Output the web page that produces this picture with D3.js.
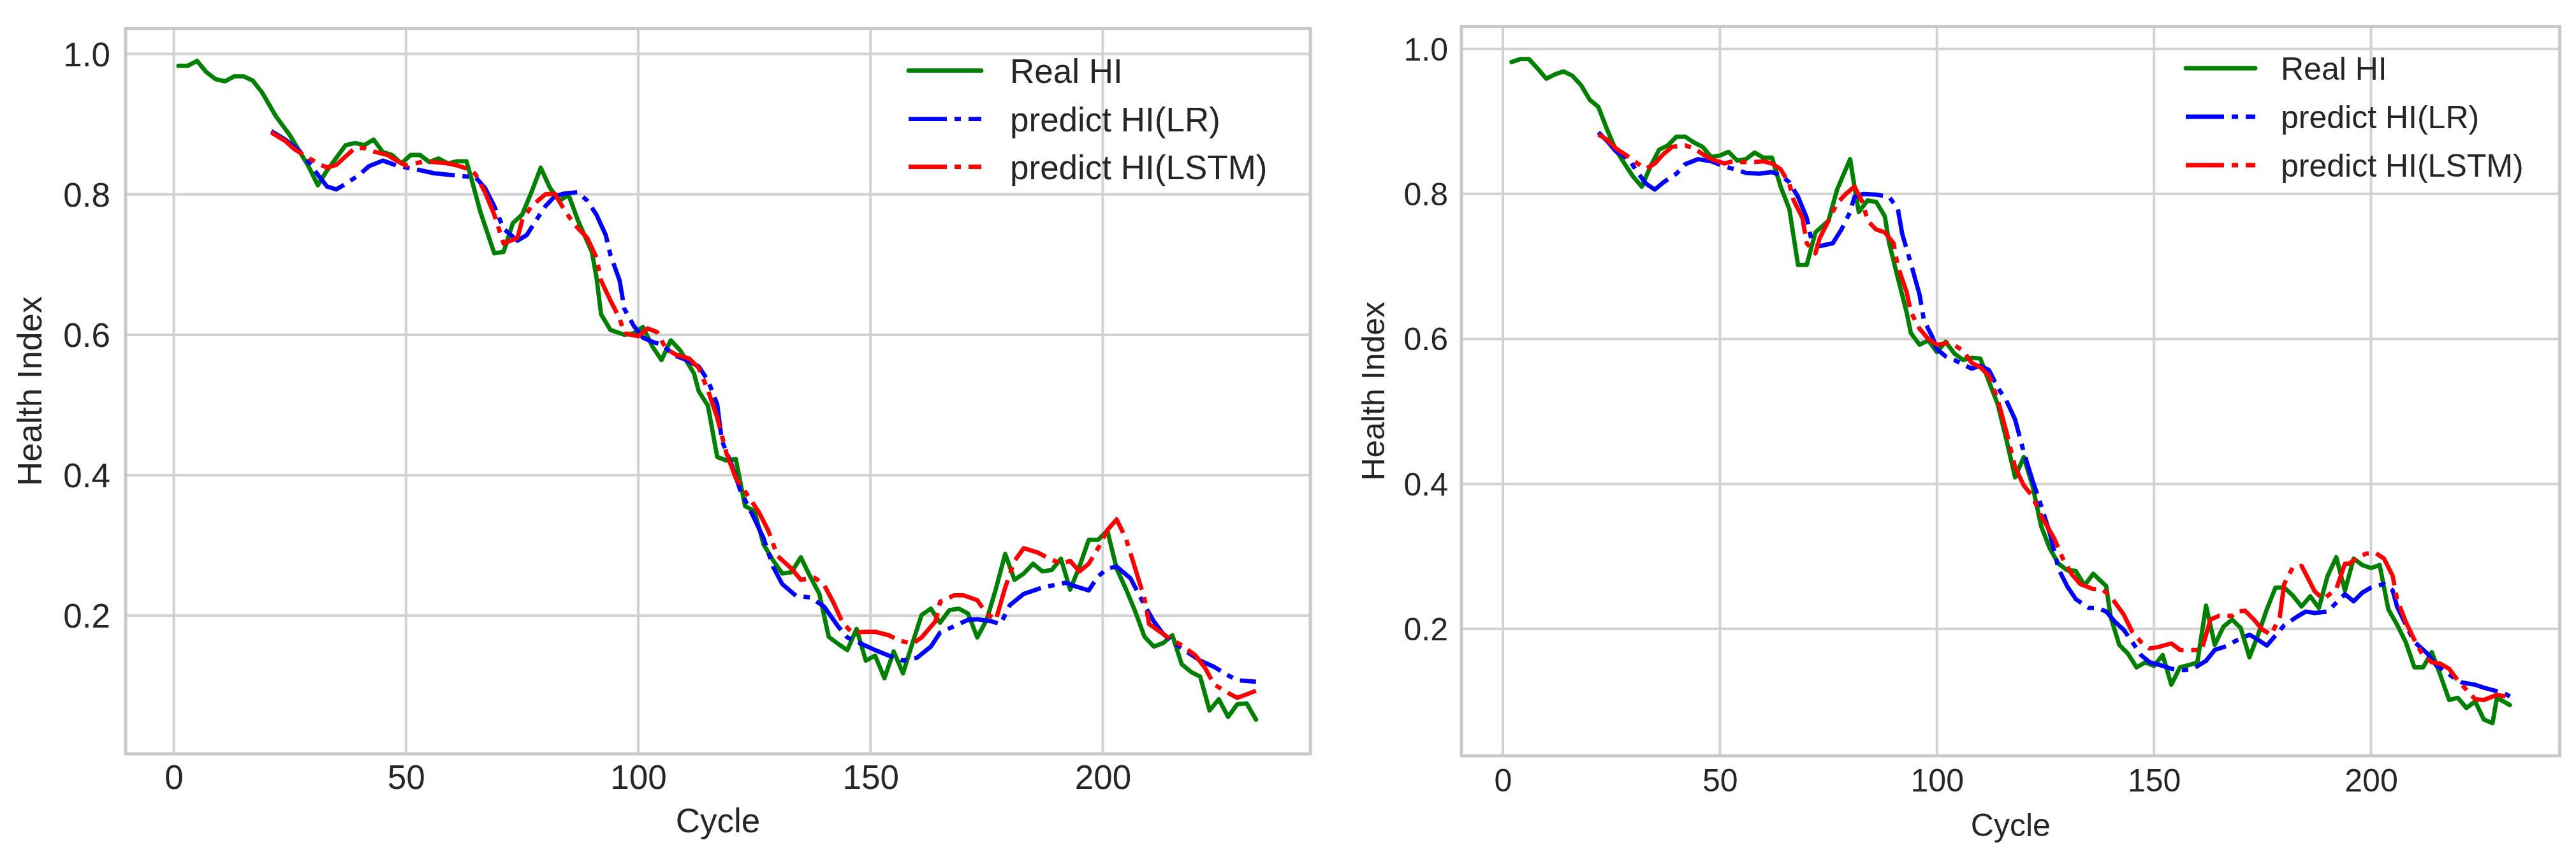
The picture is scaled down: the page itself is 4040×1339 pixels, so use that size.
<!DOCTYPE html>
<html>
<head>
<meta charset="utf-8">
<script src="https://cdn.jsdelivr.net/npm/d3@7"></script>
<style>
  html, body { margin: 0; padding: 0; background: #ffffff; }
  svg { display: block; }
  text { font-family: "Liberation Sans", Arial, sans-serif; fill: #262626; }
</style>
</head>
<body>
<svg id="chart" width="4040" height="1339"></svg>
<script>
// ---------------- DATA ----------------
const xTicks = [0, 50, 100, 150, 200];
const yTicks = [0.2, 0.4, 0.6, 0.8, 1.0];
const seriesNames = ["Real HI", "predict HI(LR)", "predict HI(LSTM)"];

// Left panel
const leftRealCycle = [1,3,5,7,9,11,13,15,17,19,22,25,27,29,31,33,37,39,41,43,45,47,49,51,53,55,57,59,61,63,64,66,69,71,73,75,77,79,81,83,85,87,90,91,92,94,97,99,101,103,105,107,109,110,112,113,115,117,119,121,123,125,127,129,131,133,135,137,139,141,143,145,147,149,151,153,155,157,159,161,163,165,167,169,171,173,175,177,179,181,183,185,187,189,191,193,195,197,199,201,203,205,207,209,211,213,215,217,219,221,223,225,227,229,231,233];
const leftRealHI = [0.983,0.983,0.990,0.974,0.964,0.961,0.968,0.968,0.962,0.945,0.911,0.884,0.862,0.840,0.813,0.834,0.870,0.873,0.870,0.878,0.860,0.856,0.844,0.856,0.856,0.846,0.851,0.844,0.847,0.847,0.824,0.775,0.716,0.718,0.759,0.771,0.803,0.838,0.809,0.791,0.799,0.763,0.718,0.682,0.629,0.607,0.600,0.602,0.611,0.584,0.564,0.592,0.578,0.567,0.545,0.520,0.499,0.426,0.421,0.423,0.356,0.349,0.301,0.279,0.260,0.262,0.283,0.256,0.231,0.170,0.160,0.151,0.181,0.136,0.143,0.111,0.149,0.118,0.160,0.201,0.210,0.190,0.208,0.210,0.203,0.169,0.194,0.238,0.288,0.251,0.260,0.274,0.263,0.265,0.281,0.237,0.270,0.308,0.308,0.321,0.267,0.238,0.206,0.170,0.156,0.161,0.172,0.131,0.120,0.113,0.065,0.081,0.056,0.074,0.075,0.052];

const leftLRCycle = [21,24,27,29,31,33,35,37,40,42,45,48,51,54,56,59,62,65,67,69,71,74,76,78,80,82,84,87,89,91,93,94,96,97,99,101,103,105,108,110,113,115,117,118,120,122,125,127,129,131,134,137,140,143,145,148,151,154,157,160,163,165,168,171,173,176,178,180,183,187,190,192,194,197,199,201,203,206,209,211,213,215,218,221,224,227,229,233];
const leftLRHI = [0.890,0.878,0.862,0.846,0.828,0.811,0.807,0.815,0.828,0.840,0.848,0.841,0.837,0.833,0.830,0.828,0.826,0.824,0.809,0.783,0.751,0.734,0.742,0.763,0.783,0.797,0.801,0.803,0.791,0.771,0.742,0.714,0.677,0.637,0.613,0.596,0.590,0.586,0.570,0.565,0.555,0.535,0.501,0.449,0.417,0.378,0.338,0.310,0.270,0.245,0.228,0.226,0.213,0.185,0.169,0.160,0.151,0.143,0.136,0.140,0.156,0.176,0.185,0.194,0.195,0.192,0.188,0.215,0.231,0.240,0.244,0.247,0.242,0.236,0.256,0.267,0.270,0.253,0.215,0.192,0.174,0.163,0.149,0.136,0.127,0.115,0.108,0.106];

const leftLSTMCycle = [21,24,26,29,31,33,35,37,39,41,43,46,48,50,52,54,56,59,61,64,65,67,69,71,74,75,77,80,82,84,86,89,91,92,94,96,97,100,102,104,106,108,111,113,115,117,119,121,124,126,128,130,133,135,138,140,142,144,146,149,151,154,156,159,161,164,165,168,170,173,175,177,179,181,183,186,188,191,193,195,197,199,201,203,205,207,209,210,213,215,217,220,222,224,227,229,233];
const leftLSTMHI = [0.888,0.876,0.864,0.852,0.844,0.838,0.842,0.854,0.866,0.866,0.861,0.856,0.848,0.841,0.844,0.847,0.846,0.844,0.841,0.835,0.828,0.803,0.771,0.730,0.738,0.763,0.783,0.800,0.801,0.779,0.759,0.738,0.710,0.677,0.649,0.623,0.602,0.598,0.609,0.604,0.580,0.572,0.566,0.553,0.521,0.482,0.431,0.396,0.367,0.347,0.321,0.285,0.267,0.251,0.254,0.244,0.219,0.190,0.176,0.177,0.177,0.172,0.165,0.160,0.169,0.192,0.220,0.229,0.229,0.222,0.203,0.194,0.240,0.278,0.296,0.290,0.283,0.274,0.278,0.263,0.274,0.296,0.322,0.337,0.310,0.267,0.224,0.188,0.174,0.165,0.158,0.143,0.126,0.102,0.090,0.083,0.093];

// Right panel
const rightRealCycle = [2,4,6,8,10,12,14,16,18,20,22,24,26,28,30,32,34,36,38,40,42,44,46,48,50,52,54,56,58,60,62,64,66,68,70,72,75,77,80,81,82,84,86,88,89,91,93,94,96,98,100,102,104,106,108,110,112,114,116,118,120,122,124,126,128,130,132,134,136,139,140,142,144,146,148,150,152,154,156,158,160,162,164,166,168,170,172,174,176,178,180,182,184,186,188,190,192,194,196,198,200,202,204,206,208,210,212,214,216,218,220,222,224,226,228,229,232];
const rightRealHI = [0.982,0.986,0.986,0.973,0.959,0.965,0.969,0.963,0.950,0.930,0.920,0.889,0.861,0.842,0.824,0.810,0.838,0.861,0.867,0.879,0.879,0.871,0.865,0.851,0.853,0.858,0.846,0.848,0.857,0.850,0.850,0.810,0.779,0.702,0.702,0.747,0.763,0.806,0.848,0.810,0.775,0.791,0.789,0.769,0.732,0.684,0.637,0.608,0.592,0.598,0.582,0.596,0.580,0.571,0.574,0.573,0.541,0.510,0.461,0.409,0.437,0.398,0.342,0.311,0.290,0.281,0.280,0.260,0.276,0.259,0.217,0.178,0.166,0.147,0.154,0.149,0.164,0.123,0.147,0.150,0.154,0.232,0.178,0.203,0.213,0.201,0.161,0.192,0.227,0.257,0.257,0.246,0.231,0.245,0.229,0.273,0.299,0.253,0.297,0.288,0.284,0.288,0.227,0.206,0.182,0.147,0.147,0.168,0.136,0.102,0.105,0.091,0.100,0.075,0.070,0.105,0.095];

const rightLRCycle = [22,24,26,29,31,33,35,37,40,42,45,48,51,54,56,59,62,64,66,68,70,71,73,76,78,80,81,83,86,89,91,92,94,96,97,99,100,102,104,106,108,110,112,114,116,118,120,122,124,126,128,130,132,135,137,139,141,143,145,147,149,152,154,157,159,162,164,167,169,172,174,176,178,180,183,185,187,190,192,194,196,198,200,203,205,206,208,210,213,215,217,219,221,224,226,229,231,232];
const rightLRHI = [0.885,0.873,0.859,0.848,0.830,0.814,0.806,0.816,0.828,0.841,0.848,0.845,0.838,0.833,0.829,0.828,0.830,0.826,0.816,0.796,0.767,0.739,0.728,0.732,0.751,0.775,0.796,0.800,0.799,0.796,0.779,0.745,0.704,0.661,0.626,0.602,0.586,0.576,0.571,0.565,0.559,0.563,0.557,0.533,0.515,0.489,0.444,0.405,0.370,0.332,0.283,0.259,0.241,0.229,0.229,0.224,0.210,0.199,0.182,0.164,0.154,0.149,0.145,0.143,0.145,0.156,0.171,0.177,0.184,0.192,0.185,0.177,0.191,0.205,0.217,0.224,0.222,0.224,0.236,0.248,0.238,0.250,0.257,0.262,0.253,0.231,0.206,0.182,0.166,0.150,0.142,0.133,0.126,0.123,0.119,0.114,0.110,0.107];

const rightLSTMCycle = [22,24,26,29,31,33,35,37,39,42,44,46,48,51,53,55,58,60,62,64,66,67,69,70,72,73,75,77,79,81,83,84,86,88,90,91,93,94,96,98,100,102,103,106,108,110,112,114,116,118,120,122,124,127,129,131,133,136,138,140,143,145,147,149,151,154,156,159,161,163,165,168,169,171,173,175,177,179,180,182,184,186,187,189,192,194,195,197,199,201,203,205,206,208,210,212,214,216,218,220,222,224,226,229,231];
const rightLSTMHI = [0.882,0.875,0.863,0.851,0.842,0.835,0.842,0.855,0.865,0.867,0.863,0.855,0.848,0.842,0.845,0.844,0.844,0.845,0.842,0.834,0.814,0.791,0.767,0.732,0.718,0.739,0.763,0.787,0.800,0.810,0.787,0.763,0.751,0.747,0.732,0.700,0.665,0.637,0.614,0.600,0.592,0.594,0.595,0.584,0.567,0.561,0.549,0.516,0.472,0.423,0.398,0.383,0.356,0.325,0.297,0.276,0.262,0.255,0.255,0.245,0.220,0.196,0.182,0.173,0.175,0.180,0.171,0.171,0.171,0.213,0.218,0.218,0.224,0.225,0.213,0.199,0.192,0.217,0.262,0.285,0.287,0.264,0.252,0.241,0.255,0.290,0.290,0.299,0.304,0.305,0.297,0.273,0.241,0.210,0.185,0.163,0.154,0.152,0.145,0.129,0.116,0.103,0.102,0.109,0.107];

// ---------------- LAYOUT / STYLE ----------------
const colors = ["#008000", "#0000ff", "#ff0000"];
const dashes = [null, "60,12,10,12", "60,12,10,12"];
const lineWidth = 6.8;

const panels = [
  {
    frame: {x0: 197, x1: 2055, y0: 44.6, y1: 1182},
    xDomain: [-10.38, 244.7], yDomain: [0.0032, 1.0362],
    fs: 53, yTickRight: 173, xTickBase: 1237, xLabelBase: 1305, yLabelBase: 65,
    legend: {lx0: 1425, lx1: 1539, tx: 1584, rows: [110.7, 186.6, 261.5]},
    series: [[leftRealCycle, leftRealHI], [leftLRCycle, leftLRHI], [leftLSTMCycle, leftLSTMHI]]
  },
  {
    frame: {x0: 2292, x1: 4014.6, y0: 41.5, y1: 1185},
    xDomain: [-9.55, 243.5], yDomain: [0.025, 1.031],
    fs: 50, yTickRight: 2271, xTickBase: 1241, xLabelBase: 1311, yLabelBase: 2171,
    legend: {lx0: 3428, lx1: 3537, tx: 3577, rows: [107, 183, 259]},
    series: [[rightRealCycle, rightRealHI], [rightLRCycle, rightLRHI], [rightLSTMCycle, rightLSTMHI]]
  }
];

const svg = d3.select("#chart");
svg.append("rect").attr("width", 4040).attr("height", 1339).attr("fill", "#ffffff");

panels.forEach(p => {
  const f = p.frame;
  const x = d3.scaleLinear().domain(p.xDomain).range([f.x0, f.x1]);
  const y = d3.scaleLinear().domain(p.yDomain).range([f.y1, f.y0]);
  const g = svg.append("g");

  // grid
  g.append("g").selectAll("line").data(xTicks).join("line")
    .attr("x1", d => x(d)).attr("x2", d => x(d))
    .attr("y1", f.y0).attr("y2", f.y1)
    .attr("stroke", "#d2d2d2").attr("stroke-width", 4);
  g.append("g").selectAll("line").data(yTicks).join("line")
    .attr("x1", f.x0).attr("x2", f.x1)
    .attr("y1", d => y(d)).attr("y2", d => y(d))
    .attr("stroke", "#d2d2d2").attr("stroke-width", 4);

  // tick labels via d3 axes (no tick marks, no domain)
  const xAxis = d3.axisBottom(x).tickValues(xTicks).tickSize(0).tickFormat(d3.format("d"));
  const xg = g.append("g").attr("transform", `translate(0,${f.y1})`).call(xAxis);
  xg.select(".domain").remove();
  xg.selectAll("text")
    .attr("y", p.xTickBase - f.y1).attr("dy", null)
    .attr("font-size", p.fs).attr("font-family", "Liberation Sans, Arial, sans-serif")
    .attr("fill", "#262626");

  const yAxis = d3.axisLeft(y).tickValues(yTicks).tickSize(0).tickFormat(d3.format(".1f"));
  const yg = g.append("g").attr("transform", `translate(${f.x0},0)`).call(yAxis);
  yg.select(".domain").remove();
  yg.selectAll("text")
    .attr("x", p.yTickRight - f.x0).attr("dy", "0.35em")
    .attr("font-size", p.fs).attr("font-family", "Liberation Sans, Arial, sans-serif")
    .attr("fill", "#262626");

  // axis labels
  g.append("text")
    .attr("x", (f.x0 + f.x1) / 2).attr("y", p.xLabelBase)
    .attr("text-anchor", "middle").attr("font-size", p.fs)
    .text("Cycle");
  g.append("text")
    .attr("transform", `translate(${p.yLabelBase},${(f.y0 + f.y1) / 2}) rotate(-90)`)
    .attr("text-anchor", "middle").attr("font-size", p.fs)
    .text("Health Index");

  // clip
  const clipId = "clip" + f.x0;
  svg.append("clipPath").attr("id", clipId).append("rect")
    .attr("x", f.x0).attr("y", f.y0).attr("width", f.x1 - f.x0).attr("height", f.y1 - f.y0);

  // lines
  const line = d3.line().x(d => x(d[0])).y(d => y(d[1]));
  const lg = g.append("g").attr("clip-path", `url(#${clipId})`);
  p.series.forEach((s, i) => {
    lg.append("path")
      .datum(d3.zip(s[0], s[1]))
      .attr("d", line)
      .attr("fill", "none")
      .attr("stroke", colors[i])
      .attr("stroke-width", lineWidth)
      .attr("stroke-linejoin", "round")
      .attr("stroke-linecap", i === 0 ? "round" : "butt")
      .attr("stroke-dasharray", dashes[i]);
  });

  // frame
  g.append("rect")
    .attr("x", f.x0).attr("y", f.y0).attr("width", f.x1 - f.x0).attr("height", f.y1 - f.y0)
    .attr("fill", "none").attr("stroke", "#c8c8c8").attr("stroke-width", 5);

  // legend
  const L = p.legend;
  const leg = g.append("g");
  seriesNames.forEach((name, i) => {
    leg.append("line")
      .attr("x1", L.lx0).attr("x2", L.lx1)
      .attr("y1", L.rows[i]).attr("y2", L.rows[i])
      .attr("stroke", colors[i]).attr("stroke-width", lineWidth)
      .attr("stroke-linecap", i === 0 ? "round" : "butt")
      .attr("stroke-dasharray", dashes[i]);
    leg.append("text")
      .attr("x", L.tx).attr("y", L.rows[i]).attr("dy", "0.36em")
      .attr("font-size", p.fs)
      .text(name);
  });
});
</script>
</body>
</html>
